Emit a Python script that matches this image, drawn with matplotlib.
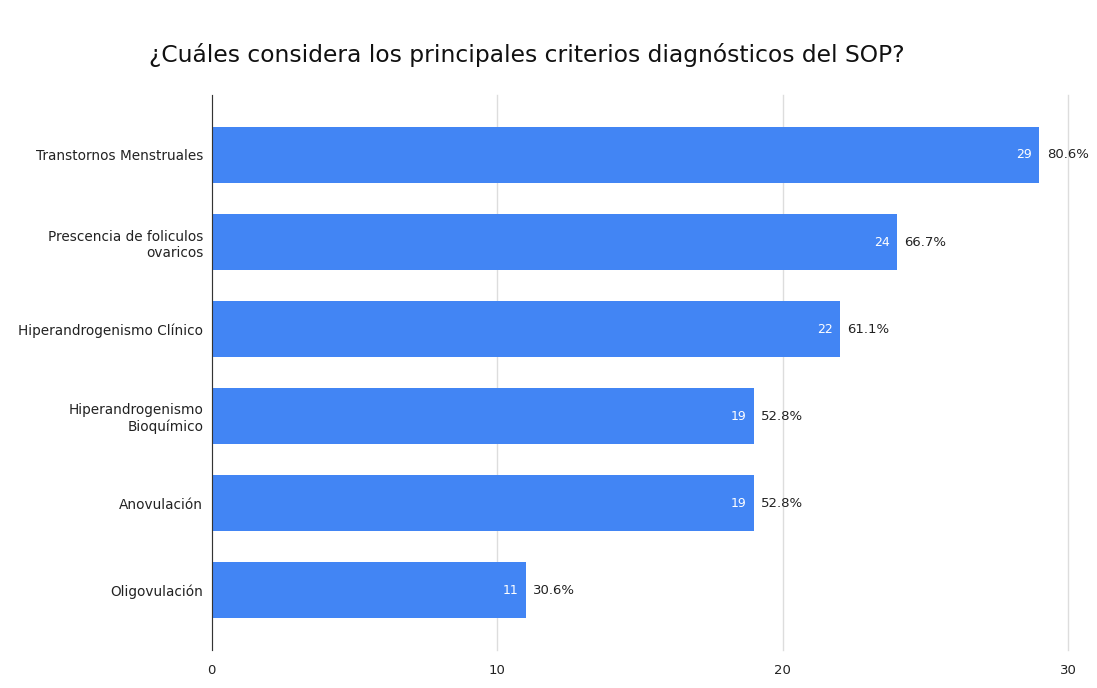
import matplotlib.pyplot as plt

categories = ["Transtornos Menstruales", "Prescencia de foliculos\novaricos",
              "Hiperandrogenismo Clínico", "Hiperandrogenismo\nBioquímico",
              "Anovulación", "Oligovulación"]
counts = [29, 24, 22, 19, 19, 11]
percents = ["80.6%", "66.7%", "61.1%", "52.8%", "52.8%", "30.6%"]
xticks = [0, 10, 20, 30]


def main():
    fig = plt.figure(figsize=(10.97, 6.88), dpi=100)
    ax = fig.add_axes([0.193, 0.055, 0.7806, 0.807])
    y = list(range(len(categories)))
    ax.barh(y, counts, height=0.64, color="#4285F4", zorder=2)
    for yi, c, p in zip(y, counts, percents):
        ax.text(c - 0.25, yi, str(c), color="white", ha="right", va="center", fontsize=9, zorder=3)
        ax.text(c + 0.25, yi, p, color="#222222", ha="left", va="center", fontsize=9.5, zorder=3)
    ax.set_xlim(0, 30)
    ax.set_ylim(5.69, -0.69)
    ax.set_yticks(y)
    ax.set_yticklabels(categories, fontsize=9.8, color="#222222", ha="right")
    ax.set_xticks(xticks)
    ax.set_xticklabels([str(t) for t in xticks], fontsize=9.5, color="#222222")
    ax.tick_params(axis="y", length=0, pad=6)
    ax.tick_params(axis="x", length=0, pad=10)
    ax.grid(axis="x", color="#dddddd", linewidth=1, zorder=0)
    for line in ax.get_xgridlines():
        line.set_clip_on(False)
    for s in ["top", "right", "bottom"]:
        ax.spines[s].set_visible(False)
    ax.spines["left"].set_color("#333333")
    ax.spines["left"].set_zorder(4)
    fig.text(0.48, 0.92, "¿Cuáles considera los principales criterios diagnósticos del SOP?",
             ha="center", va="center", fontsize=16.8, color="#111111")
    fig.savefig("out.png", dpi=100)


if __name__ == "__main__":
    main()
